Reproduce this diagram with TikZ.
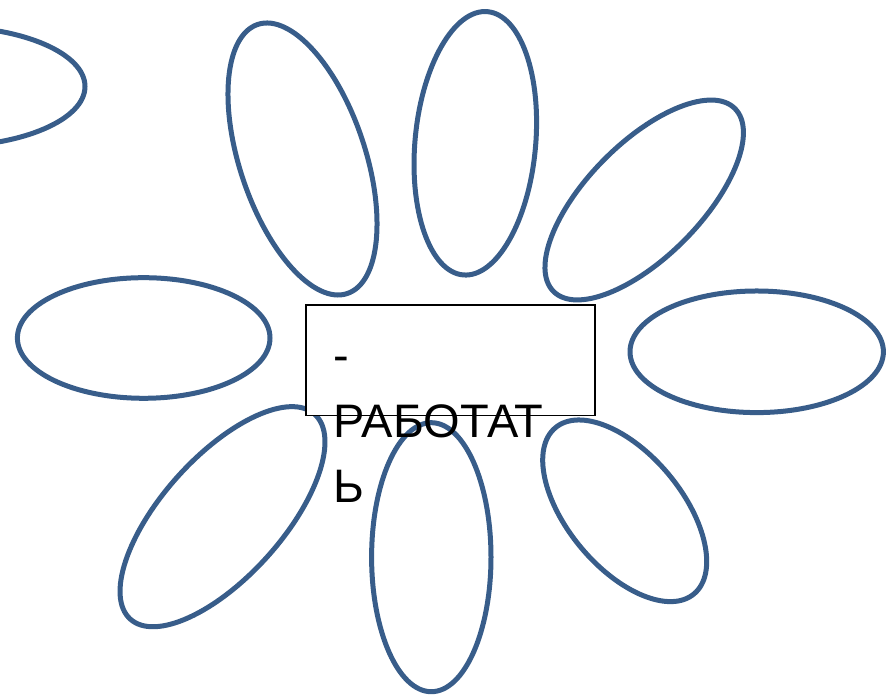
\documentclass[tikz,border=0pt]{standalone}
\usepackage{fontspec}
\setmainfont{Liberation Sans}
\definecolor{petal}{HTML}{385D8A}
\tikzset{
  petal/.style={draw=petal, line width=5pt},
  wordbox/.style={draw=black, line width=1.6pt, fill=white, rectangle, inner sep=0pt},
  wordtext/.style={anchor=north west, inner sep=0pt, align=left,
    font={\fontsize{47}{65.5}\selectfont}, text=black}
}
\begin{document}
\begin{tikzpicture}[x=1pt,y=1pt]
\useasboundingbox (0,0) rectangle (895,695);
\clip (0,0) rectangle (895,695);
% petals
\draw[petal] (-55,608.5) ellipse [x radius=140, y radius=60];
\draw[petal, shift={(302.5,536)}, rotate=18.4] (0,0) ellipse [x radius=62.8, y radius=141.8];
\draw[petal, shift={(475.3,551.7)}, rotate=-5.3] (0,0) ellipse [x radius=60.3, y radius=132.2];
\draw[petal, shift={(644.2,495)}, rotate=-44.7] (0,0) ellipse [x radius=56.9, y radius=128.8];
\draw[petal] (143.7,357) ellipse [x radius=126.3, y radius=60.3];
\draw[petal] (756.7,343.2) ellipse [x radius=126.7, y radius=60.8];
\draw[petal, shift={(222.5,178.3)}, rotate=-42] (0,0) ellipse [x radius=60.1, y radius=137.8];
\draw[petal] (431.3,137.8) ellipse [x radius=59.7, y radius=134.5];
\draw[petal, shift={(624.7,184.2)}, rotate=39.8] (0,0) ellipse [x radius=57.1, y radius=108.2];
% centre box and its overflowing text
\node[wordbox, minimum width=289pt, minimum height=110.5pt] (box) at (450.5,334.75) {};
\node[wordtext] (word) at (333.5,369.4) {\strut-\\\strut РАБОТАТ\\\strut Ь};
\end{tikzpicture}
\end{document}
